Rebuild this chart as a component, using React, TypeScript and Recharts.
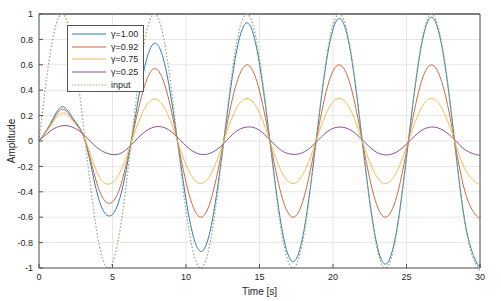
import { CartesianGrid, Label, Line, LineChart, ReferenceLine, XAxis, YAxis } from 'recharts';

const times = [
  0, 0.79, 1.57, 2.36, 3.14, 3.93, 4.71, 5.5, 6.28, 7.07, 7.85, 8.64, 9.42, 10.21, 11.0, 11.78, 12.57, 13.35, 14.14, 14.92,
  15.71, 16.49, 17.28, 18.06, 18.85, 19.63, 20.42, 21.21, 21.99, 22.78, 23.56, 24.35, 25.13, 25.92, 26.7, 27.49, 28.27, 29.06, 29.85, 30,
];
const input = [
  0, 0.71, 1, 0.71, 0, -0.71, -1, -0.71, 0, 0.71, 1, 0.71, 0, -0.71, -1, -0.71, 0, 0.71, 1, 0.71,
  0, -0.71, -1, -0.71, 0, 0.71, 1, 0.71, 0, -0.71, -1, -0.71, 0, 0.71, 1, 0.71, 0, -0.71, -1, -0.99,
];
const gamma100 = [
  0, 0.14, 0.27, 0.17, 0, -0.4, -0.59, -0.45, 0, 0.52, 0.77, 0.56, 0, -0.6, -0.87, -0.63, 0, 0.65, 0.93, 0.66,
  0, -0.67, -0.95, -0.68, 0, 0.68, 0.965, 0.69, 0, -0.69, -0.97, -0.69, 0, 0.69, 0.975, 0.69, 0, -0.69, -0.975, -0.965,
];
const gamma092 = [
  0, 0.13, 0.25, 0.16, 0, -0.33, -0.49, -0.37, 0, 0.39, 0.57, 0.41, 0, -0.42, -0.6, -0.43, 0, 0.42, 0.6, 0.43,
  0, -0.425, -0.6, -0.43, 0, 0.43, 0.6, 0.43, 0, -0.43, -0.6, -0.43, 0, 0.43, 0.6, 0.43, 0, -0.43, -0.6, -0.59,
];
const gamma075 = [
  0, 0.12, 0.22, 0.15, 0.01, -0.24, -0.34, -0.25, -0.01, 0.23, 0.33, 0.24, 0, -0.24, -0.335, -0.24, 0, 0.24, 0.335, 0.24,
  0, -0.24, -0.335, -0.24, 0, 0.24, 0.335, 0.24, 0, -0.24, -0.335, -0.24, 0, 0.24, 0.335, 0.24, 0, -0.24, -0.335, -0.33,
];
const gamma025 = [
  0, 0.08, 0.12, 0.105, 0.04, -0.05, -0.1, -0.1, -0.03, 0.06, 0.11, 0.1, 0.03, -0.06, -0.105, -0.09, -0.02, 0.07, 0.11, 0.09,
  0.01, -0.075, -0.105, -0.085, -0.01, 0.075, 0.11, 0.085, 0.01, -0.075, -0.11, -0.085, -0.01, 0.075, 0.11, 0.085, 0.01, -0.075, -0.11, -0.11,
];

const seriesKeys = ['g100', 'g092', 'g075', 'g025', 'input'];
const seriesNames = ['γ=1.00', 'γ=0.92', 'γ=0.75', 'γ=0.25', 'input'];
const seriesColors = ['#2a7db8', '#d2693f', '#efbd4f', '#8a4f98', '#a3a877'];

const xTicks = [0, 5, 10, 15, 20, 25, 30];
const yTicks = [-1, -0.8, -0.6, -0.4, -0.2, 0, 0.2, 0.4, 0.6, 0.8, 1];

const rows = times.map((t, i) => ({
  t,
  g100: gamma100[i],
  g092: gamma092[i],
  g075: gamma075[i],
  g025: gamma025[i],
  input: input[i],
}));

const font = '"Liberation Sans", Arial, sans-serif';
const axisColor = '#555555';

function LegendBox() {
  return (
    <div
      style={{
        position: 'absolute',
        left: 67,
        top: 25,
        width: 75,
        height: 65,
        border: `1px solid ${axisColor}`,
        background: '#fff',
        fontFamily: font,
        fontSize: 9,
        color: '#262626',
      }}
    >
      {seriesNames.map((name, i) => (
        <div key={name} style={{ position: 'absolute', left: 4, top: 2 + i * 12.7, height: 12, display: 'flex', alignItems: 'center' }}>
          <svg width={34} height={12}>
            <line
              x1={0}
              x2={34}
              y1={6}
              y2={6}
              stroke={seriesColors[i]}
              strokeWidth={1.1}
              strokeDasharray={seriesKeys[i] === 'input' ? '1.5 1.5' : undefined}
            />
          </svg>
          <span style={{ marginLeft: 5 }}>{name}</span>
        </div>
      ))}
    </div>
  );
}

export default function App() {
  return (
    <div style={{ position: 'fixed', left: 0, top: 0, width: 501, height: 301, background: '#fff' }}>
      <LineChart width={501} height={301} data={rows} margin={{ top: 14, right: 21, bottom: 0, left: 0 }}>
        <CartesianGrid stroke="#e6e6e6" vertical horizontal />
        <XAxis
          dataKey="t"
          type="number"
          domain={[0, 30]}
          ticks={xTicks}
          height={33}
          tickSize={-4}
          tickMargin={10}
          stroke={axisColor}
          tick={{ fill: '#262626', fontSize: 9, fontFamily: font }}
        >
          <Label value="Time [s]" position="insideBottom" offset={6} style={{ fill: '#262626', fontSize: 10, fontFamily: font }} />
        </XAxis>
        <YAxis
          type="number"
          domain={[-1, 1]}
          ticks={yTicks}
          width={39}
          tickSize={-4}
          tickMargin={10}
          stroke={axisColor}
          tick={{ fill: '#262626', fontSize: 9, fontFamily: font }}
        >
          <Label
            value="Amplitude"
            angle={-90}
            position="insideLeft"
            offset={11}
            style={{ fill: '#262626', fontSize: 10, fontFamily: font, textAnchor: 'middle' }}
          />
        </YAxis>
        <ReferenceLine y={1} stroke={axisColor} strokeWidth={1.5} />
        <ReferenceLine x={30} stroke={axisColor} />
        {seriesKeys.map((key, i) => (
          <Line
            key={key}
            type="natural"
            dataKey={key}
            stroke={seriesColors[i]}
            strokeWidth={key === 'input' ? 1.3 : 1}
            strokeDasharray={key === 'input' ? '1.5 2' : undefined}
            dot={false}
            isAnimationActive={false}
          />
        ))}
      </LineChart>
      <LegendBox />
    </div>
  );
}
